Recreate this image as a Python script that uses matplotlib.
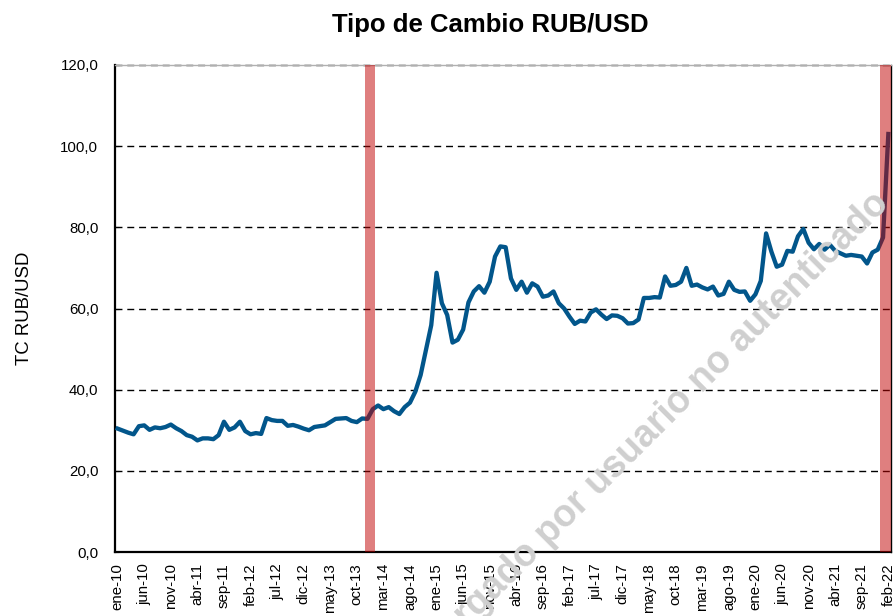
import numpy as np
import matplotlib
matplotlib.use("Agg")
import matplotlib.pyplot as plt
from matplotlib.ticker import FuncFormatter

plt.rcParams["font.family"] = ["Liberation Sans", "DejaVu Sans"]

# DATA
month_abbr = ["ene", "feb", "mar", "abr", "may", "jun",
              "jul", "ago", "sep", "oct", "nov", "dic"]
years = list(range(10, 23))
months = [f"{m}-{y:02d}" for y in years for m in month_abbr][:146]  # ene-10 .. feb-22

rub_2010 = [30.4, 29.9, 29.4, 29.0, 31.0, 31.2, 30.1, 30.7, 30.5, 30.8, 31.4, 30.5]
rub_2011 = [29.8, 28.8, 28.4, 27.5, 28.0, 28.0, 27.8, 28.8, 32.1, 30.1, 30.7, 32.1]
rub_2012 = [29.8, 29.0, 29.3, 29.1, 33.0, 32.5, 32.3, 32.3, 31.1, 31.3, 30.9, 30.4]
rub_2013 = [30.0, 30.8, 31.0, 31.2, 32.0, 32.8, 32.9, 33.0, 32.3, 32.0, 32.9, 32.8]
rub_2014 = [35.2, 36.1, 35.2, 35.7, 34.7, 34.0, 35.7, 36.8, 39.5, 43.6, 49.8, 55.9]
rub_2015 = [68.8, 61.3, 58.4, 51.6, 52.3, 54.8, 61.5, 64.2, 65.5, 63.9, 66.6, 72.8]
rub_2016 = [75.3, 75.1, 67.4, 64.6, 66.6, 63.9, 66.2, 65.4, 62.9, 63.2, 64.2, 61.3]
rub_2017 = [60.0, 58.0, 56.2, 57.0, 56.8, 59.0, 59.8, 58.5, 57.4, 58.3, 58.2, 57.6]
rub_2018 = [56.3, 56.4, 57.3, 62.6, 62.6, 62.8, 62.7, 67.9, 65.6, 65.8, 66.6, 70.0]
rub_2019 = [65.6, 65.9, 65.2, 64.7, 65.4, 63.2, 63.6, 66.6, 64.6, 64.1, 64.2, 61.9]
rub_2020 = [63.5, 66.8, 78.5, 74.0, 70.3, 70.8, 74.2, 74.0, 77.8, 79.6, 76.2, 74.6]
rub_2021 = [75.9, 74.5, 75.7, 74.2, 73.6, 73.0, 73.2, 73.0, 72.8, 71.1, 73.8, 74.5]
rub_2022 = [77.5, 103.0]

tc_rub_usd = (rub_2010 + rub_2011 + rub_2012 + rub_2013 + rub_2014 + rub_2015 + rub_2016
              + rub_2017 + rub_2018 + rub_2019 + rub_2020 + rub_2021 + rub_2022)

# periodos sombreados (inicio, fin)
shocks = [("dic-13", "ene-14"), ("ene-22", "feb-22")]

label_step = 5
yticks = [0, 20, 40, 60, 80, 100, 120]

# PLOT
fig = plt.figure(figsize=(8.96, 6.16), dpi=100)
ax = fig.add_axes([115 / 896, 64 / 616, 776 / 896, 487 / 616])

x = np.arange(len(months))
ax.plot(x, tc_rub_usd, color="#02568B", lw=3.1, solid_joinstyle="round", zorder=3)

for start, end in shocks:
    ax.axvspan(months.index(start) - 0.5, months.index(end) + 0.5,
               color="#C00000", alpha=0.5, lw=0, zorder=4)

ax.set_xlim(-0.5, len(months) - 0.5)
ax.set_ylim(0, 120)
ax.set_yticks(yticks)
ax.yaxis.set_major_formatter(FuncFormatter(lambda v, p: f"{v:.1f}".replace(".", ",")))
for v in yticks[1:]:
    ax.axhline(v, color="black", lw=1.0, ls=(0, (5, 3.5)), zorder=2, clip_on=False)

ax.set_xticks(x[::label_step])
ax.set_xticklabels(months[::label_step], rotation=90, fontsize=10.8)
ax.tick_params(axis="x", length=0, pad=8)
ax.tick_params(axis="y", direction="in", length=3, labelsize=10.8, pad=12)

for side in ["left", "bottom"]:
    ax.spines[side].set_linewidth(1.6)
    ax.spines[side].set_color("black")
ax.spines["top"].set_color("#b0b0b0")
ax.spines["top"].set_linewidth(1.0)
ax.spines["right"].set_color("black")
ax.spines["right"].set_linewidth(1.0)

ax.set_ylabel("TC RUB/USD", fontsize=13.4, labelpad=20)
fig.text(490 / 896, 1 - 25 / 616, "Tipo de Cambio RUB/USD", ha="center", va="center",
         fontsize=18.5, fontweight="bold")

# marca de agua (cortada por el borde, como en el original)
fig.text(884 / 896, 1 - 198 / 616, "Descargado por usuario no autenticado",
         ha="right", va="center", rotation=45, rotation_mode="anchor",
         fontsize=27, fontweight="bold", color="#cfcfcf", zorder=1)

fig.savefig("out.png", dpi=100)
